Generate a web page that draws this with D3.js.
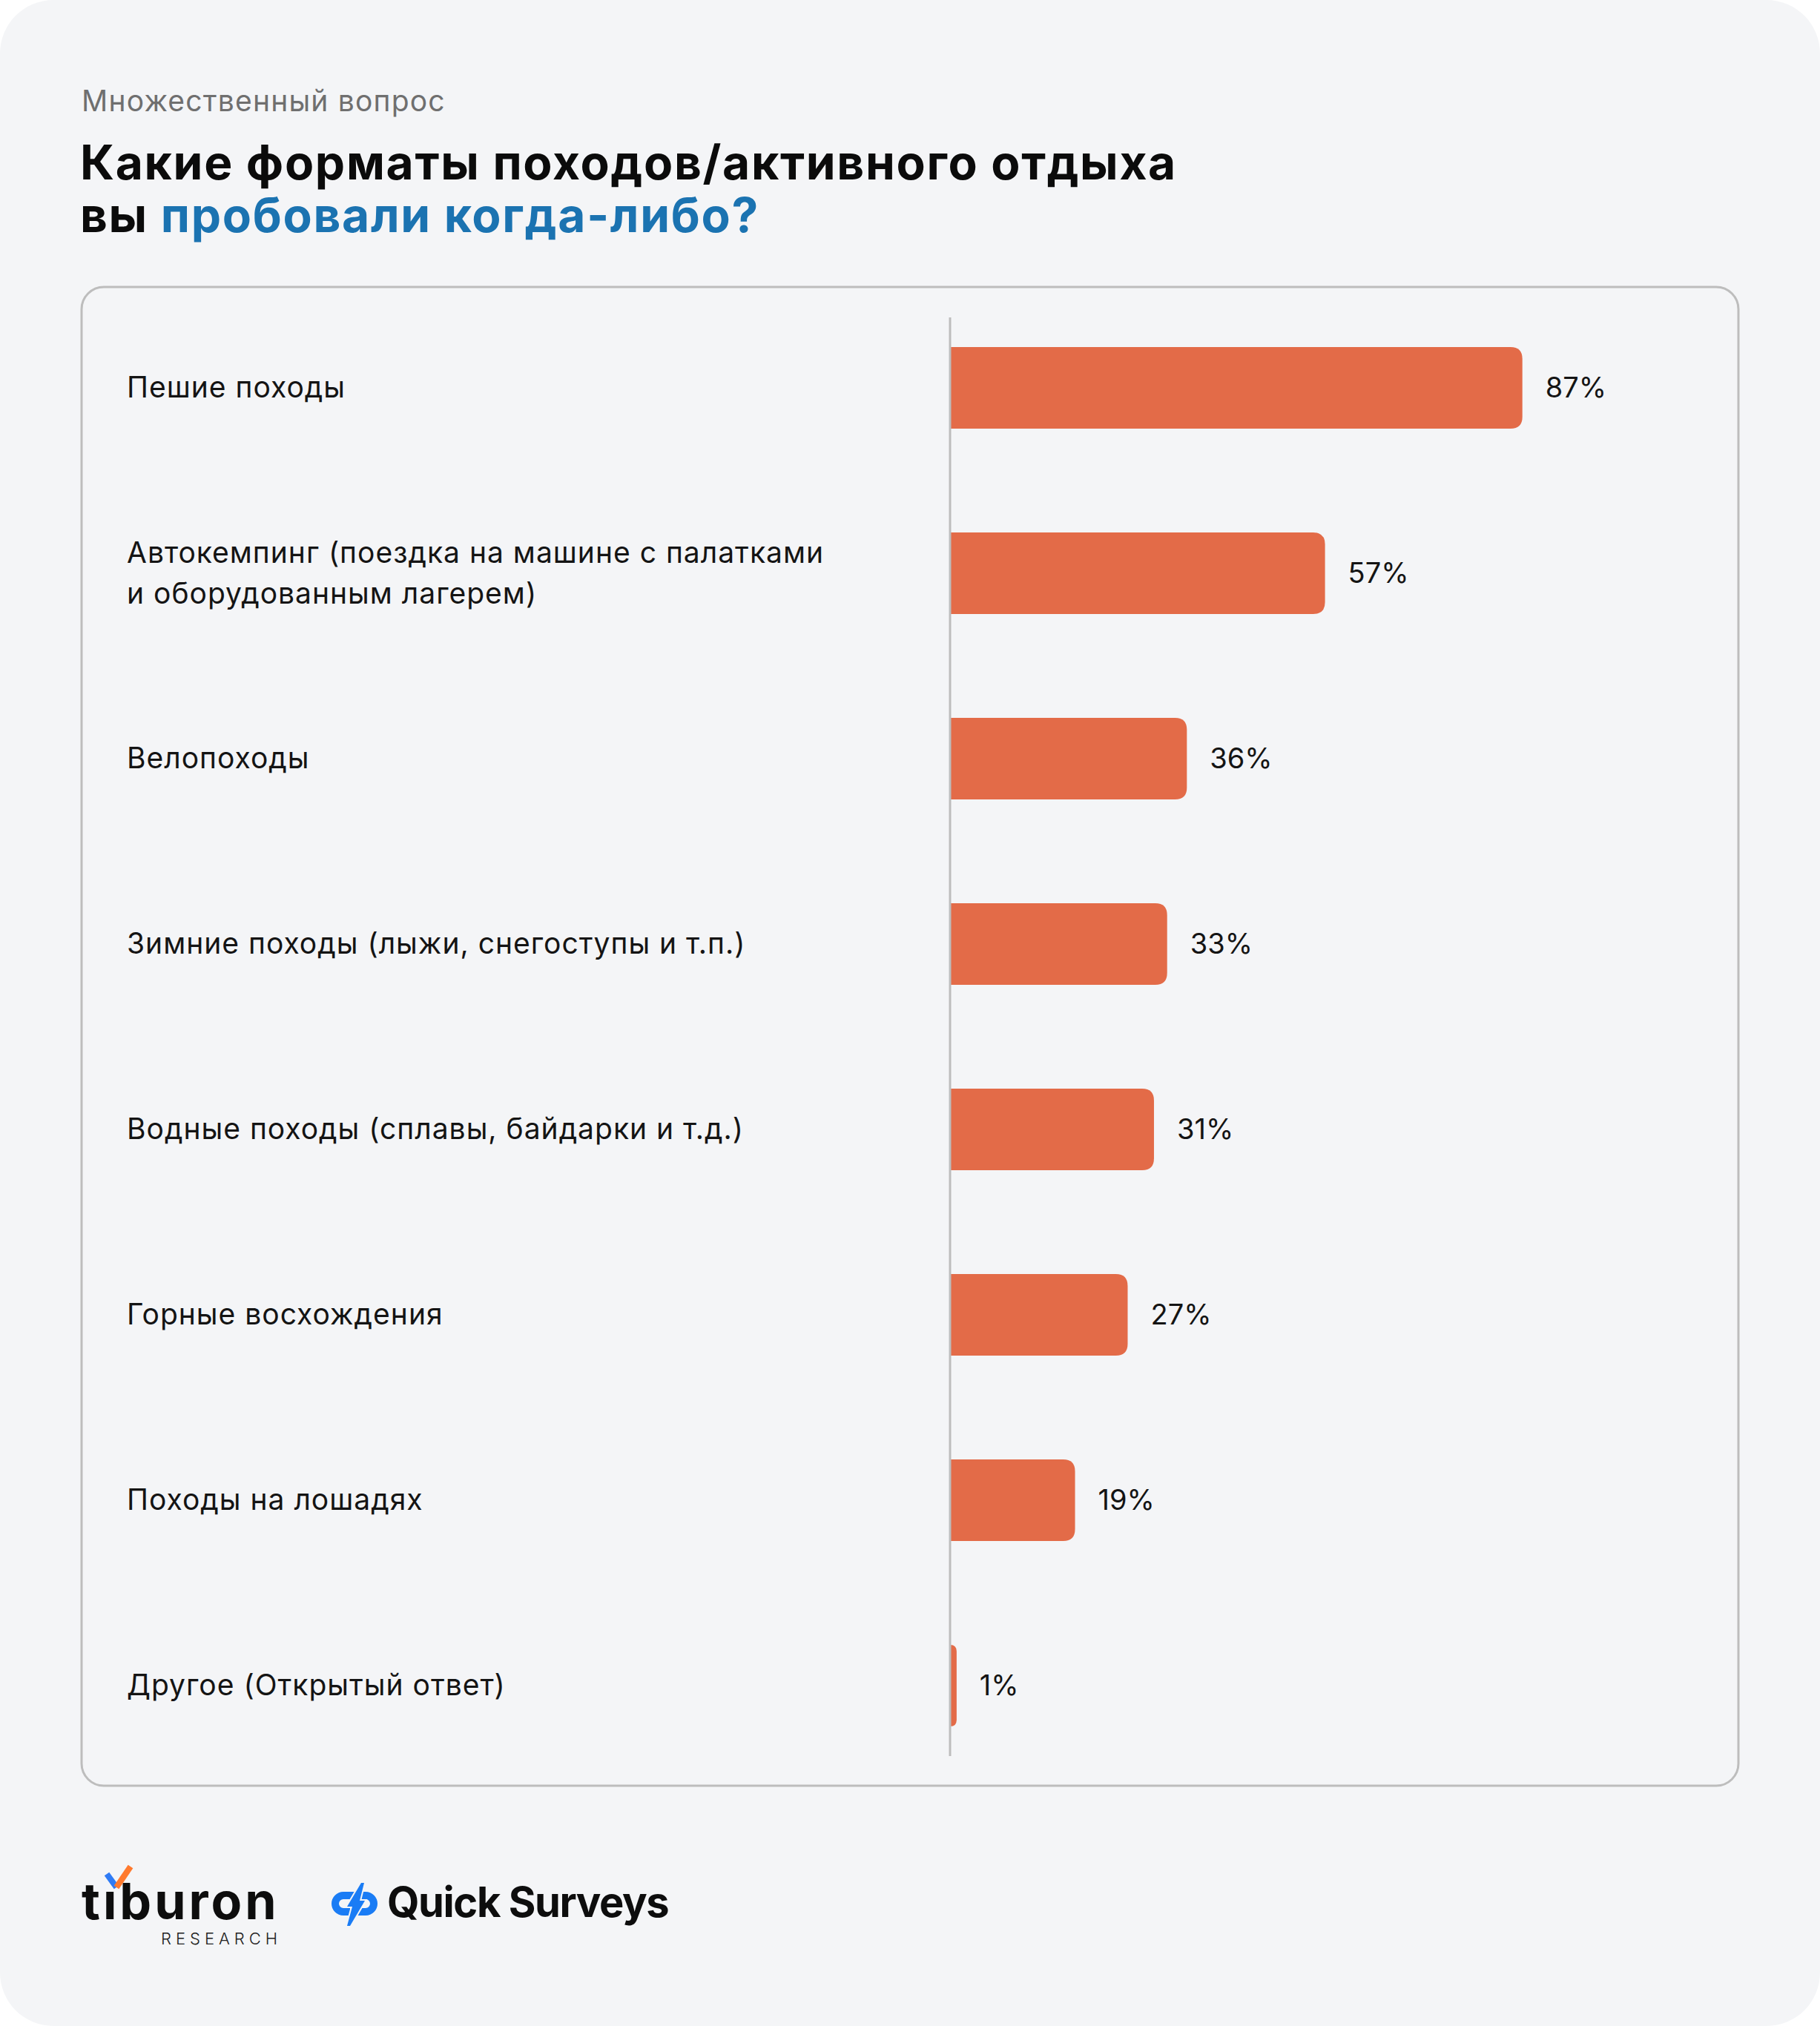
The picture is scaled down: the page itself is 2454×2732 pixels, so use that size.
<!DOCTYPE html>
<html>
<head>
<meta charset="utf-8">
<script src="https://cdn.jsdelivr.net/npm/d3@7"></script>
<style>
  html, body { margin: 0; padding: 0; background: #ffffff; }
  svg { display: block; }
  text { font-family: Inter, "Noto Sans", sans-serif; }
</style>
</head>
<body>
<div id="chart-area"></div>
<script>
// data
const categories = [
  "Пешие походы",
  "Автокемпинг (поездка на машине с палатками\nи оборудованным лагерем)",
  "Велопоходы",
  "Зимние походы (лыжи, снегоступы и т.п.)",
  "Водные походы (сплавы, байдарки и т.д.)",
  "Горные восхождения",
  "Походы на лошадях",
  "Другое (Открытый ответ)"
];
const values = [87, 57, 36, 33, 31, 27, 19, 1];
const valueLabels = ["87%", "57%", "36%", "33%", "31%", "27%", "19%", "1%"];

const subtitle = "Множественный вопрос";
const titleLine1 = "Какие форматы походов/активного отдыха";
const titleLine2a = "вы ";
const titleLine2b = "пробовали когда-либо?";

const W = 2454, H = 2732;
const barColor = "#e36b48";
const cardColor = "#f4f5f7";
const borderColor = "#bdbdbd";
const blue = "#1b73b1";
const qsBlue = "#1a7cf5";

const svg = d3.select("#chart-area").append("svg")
  .attr("width", W)
  .attr("height", H);

// card background
svg.append("rect")
  .attr("x", 0).attr("y", 0)
  .attr("width", W).attr("height", H)
  .attr("rx", 72).attr("ry", 72)
  .attr("fill", cardColor);

// header
svg.append("text")
  .attr("x", 110).attr("y", 150)
  .attr("font-size", 39)
  .attr("letter-spacing", 1.2)
  .attr("fill", "#6f6f6f")
  .text(subtitle);

svg.append("text")
  .attr("x", 108).attr("y", 242)
  .attr("font-size", 64)
  .attr("font-weight", 700)
  .attr("letter-spacing", 1.7)
  .attr("fill", "#0b0b0b")
  .text(titleLine1);

const t2 = svg.append("text")
  .attr("x", 108).attr("y", 313)
  .attr("font-size", 64)
  .attr("font-weight", 700)
  .attr("letter-spacing", 1.7)
  .attr("fill", "#0b0b0b");
t2.append("tspan").text(titleLine2a);
t2.append("tspan").attr("fill", blue).text(titleLine2b);

// inner box
svg.append("rect")
  .attr("x", 110).attr("y", 387)
  .attr("width", 2234).attr("height", 2021)
  .attr("rx", 30).attr("ry", 30)
  .attr("fill", "none")
  .attr("stroke", borderColor)
  .attr("stroke-width", 3);

// scales
const x = d3.scaleLinear()
  .domain([0, 100])
  .range([1281, 2168]);

const y = d3.scalePoint()
  .domain(categories)
  .range([523, 2273]);

const barH = 110;

function barPath(d, i) {
  const x0 = x(0), x1 = x(values[i]);
  const w = x1 - x0;
  const r = Math.min(16, w);
  const top = y(d) - barH / 2, bot = y(d) + barH / 2;
  const p = d3.path();
  p.moveTo(x0, top);
  p.lineTo(x1 - r, top);
  p.quadraticCurveTo(x1, top, x1, top + r);
  p.lineTo(x1, bot - r);
  p.quadraticCurveTo(x1, bot, x1 - r, bot);
  p.lineTo(x0, bot);
  p.closePath();
  return p.toString();
}

svg.selectAll("path.bar")
  .data(categories)
  .enter().append("path")
  .attr("class", "bar")
  .attr("d", barPath)
  .attr("fill", barColor);

// zero line
svg.append("line")
  .attr("x1", x(0)).attr("x2", x(0))
  .attr("y1", 428).attr("y2", 2368)
  .attr("stroke", borderColor)
  .attr("stroke-width", 3);

// category labels
const lineGap = 55;
const labels = svg.selectAll("text.cat")
  .data(categories)
  .enter().append("text")
  .attr("class", "cat")
  .attr("font-size", 39)
  .attr("letter-spacing", 1)
  .attr("fill", "#141414");

labels.each(function(d) {
  const lines = d.split("\n");
  const n = lines.length;
  d3.select(this).selectAll("tspan")
    .data(lines)
    .enter().append("tspan")
    .attr("x", 171)
    .attr("y", (l, j) => y(d) + 13 + (j - (n - 1) / 2) * lineGap)
    .text(l => l);
});

// value labels
svg.selectAll("text.val")
  .data(categories)
  .enter().append("text")
  .attr("class", "val")
  .attr("x", (d, i) => x(values[i]) + 31)
  .attr("y", d => y(d) + 13)
  .attr("font-size", 38)
  .attr("fill", "#141414")
  .text((d, i) => valueLabels[i]);

// logos
const logo = svg.append("g");
logo.append("text")
  .attr("x", 110).attr("y", 2588)
  .attr("font-size", 68)
  .attr("font-weight", 700)
  .attr("letter-spacing", 4)
  .attr("fill", "#0d0d0d")
  .text("t\u0131buron");
logo.append("line")
  .attr("x1", 144).attr("y1", 2527)
  .attr("x2", 157).attr("y2", 2545)
  .attr("stroke", "#2f7bf5").attr("stroke-width", 8);
logo.append("line")
  .attr("x1", 157).attr("y1", 2545)
  .attr("x2", 176).attr("y2", 2517)
  .attr("stroke", "#ff7a2e").attr("stroke-width", 8);
logo.append("text")
  .attr("x", 217).attr("y", 2622)
  .attr("font-size", 22)
  .attr("font-weight", 300)
  .attr("letter-spacing", 6)
  .attr("fill", "#222")
  .text("RESEARCH");

// quick surveys icon: two half rings split by a bolt
const qs = svg.append("g");
qs.append("path")
  .attr("d", "M479,2556 L463,2556 A11,11 0 0 0 463,2578 L472,2578")
  .attr("fill", "none")
  .attr("stroke", qsBlue).attr("stroke-width", 10);
qs.append("path")
  .attr("d", "M486,2556 L493,2556 A11,11 0 0 1 493,2578 L476,2578")
  .attr("fill", "none")
  .attr("stroke", qsBlue).attr("stroke-width", 10);
qs.append("path")
  .attr("d", "M487,2539 L491,2539 L485,2563 L492,2563 L472,2597 L468,2597 L475,2571 L468,2571 Z")
  .attr("fill", qsBlue)
  .attr("stroke", cardColor).attr("stroke-width", 4)
  .attr("paint-order", "stroke");
qs.append("text")
  .attr("x", 522).attr("y", 2585)
  .attr("font-size", 56)
  .attr("font-weight", 700)
  .attr("letter-spacing", -1.4)
  .attr("fill", "#0d0d0d")
  .text("Quick Surveys");
</script>
</body>
</html>
